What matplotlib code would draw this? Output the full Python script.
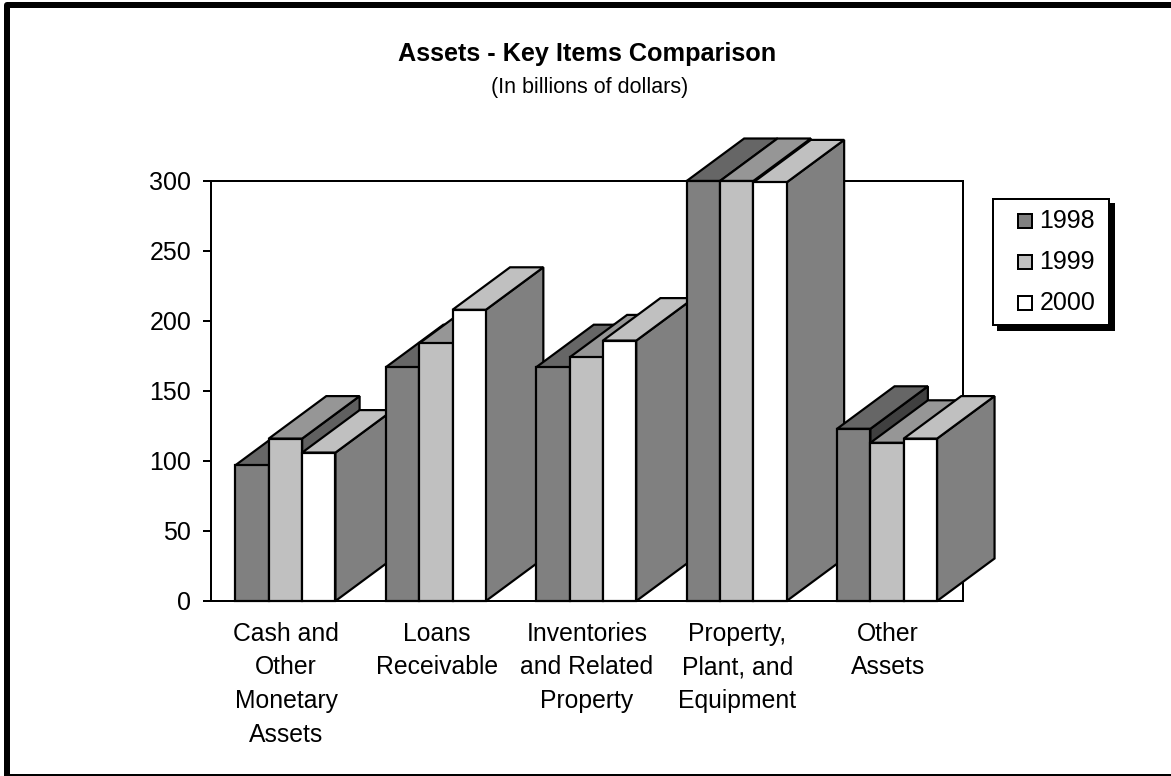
import matplotlib
matplotlib.use("Agg")
import matplotlib.pyplot as plt
from matplotlib.patches import Polygon, Rectangle
from matplotlib.legend_handler import HandlerBase

categories = ["Cash and\nOther\nMonetary\nAssets", "Loans\nReceivable",
              "Inventories\nand Related\nProperty", "Property,\nPlant, and\nEquipment",
              "Other\nAssets"]
years = ["1998", "1999", "2000"]
v1998 = [97, 167, 167, 300, 123]
v1999 = [116, 184, 174, 300, 113]
v2000 = [106, 208, 186, 299, 116]
series = [v1998, v1999, v2000]
front_colors = ["#808080", "#C0C0C0", "#FFFFFF"]
top_colors = ["#666666", "#969696", "#C0C0C0"]
side_colors = ["#404040", "#606060", "#808080"]
yticks = [0, 50, 100, 150, 200, 250, 300]

W, H = 1171, 776
plt.rcParams["font.family"] = ["Liberation Sans", "DejaVu Sans"]
px = 72 / 100
fig = plt.figure(figsize=(W / 100, H / 100), dpi=100, facecolor="white")

L, R, T, B = 211, 963, 181, 601
ax = fig.add_axes([L / W, 1 - B / H, (R - L) / W, (B - T) / H])
ax.set_xlim(0, 5)
ax.set_ylim(0, 300)
for s in ax.spines.values():
    s.set_linewidth(2 * px)
    s.set_zorder(0.5)
ax.set_yticks(yticks)
ax.set_xticks([i + 0.5 for i in range(5)])
ax.set_xticklabels(categories, fontsize=17.8, linespacing=1.52, va="top")
ax.tick_params(axis="x", length=0, pad=14.8)
ax.tick_params(axis="y", length=8 * px, width=2 * px, labelsize=18, pad=8.5)

bar_w = 100 / 3 / 150.4
dx = 57.5 / 150.4
dy = 42.5 / 1.4
z = 2
for g in range(5):
    for k, vals in enumerate(series):
        x0 = g + 0.5 - 0.005 + (k - 1.5) * bar_w
        x1 = x0 + bar_w
        v = vals[g]
        faces = [
            ([(x1, 0), (x1 + dx, dy), (x1 + dx, v + dy), (x1, v)], side_colors[k]),
            ([(x0, v), (x0 + dx, v + dy), (x1 + dx, v + dy), (x1, v)], top_colors[k]),
            ([(x0, 0), (x1, 0), (x1, v), (x0, v)], front_colors[k]),
        ]
        for pts, col in faces:
            ax.add_patch(Polygon(pts, closed=True, facecolor=col, edgecolor="black",
                                 linewidth=2.2 * px, joinstyle="miter", clip_on=False, zorder=z))
            z += 1


class SquareHandler(HandlerBase):
    def create_artists(self, legend, orig, xd, yd, width, height, fontsize, trans):
        s = 14.5 * px
        x = width - s - 3 * px
        y = (height - s) / 2 - 1 * px
        outer = Rectangle((x, y), s, s, facecolor="white", edgecolor="black",
                          linewidth=2 * px, transform=trans)
        inner = Rectangle((x + 1.5 * px, y + 1.5 * px), s - 3 * px, s - 3 * px,
                          facecolor=orig.get_facecolor(), edgecolor="none", transform=trans)
        return [outer, inner]


handles = [Rectangle((0, 0), 1, 1, facecolor=c) for c in front_colors]
fs = 18
leg = ax.legend(handles, years, handler_map={Rectangle: SquareHandler()},
                loc="upper left", mode="expand",
                bbox_to_anchor=(993 / W, 1 - 325 / H, 116 / W, 126 / H),
                bbox_transform=fig.transFigure, borderaxespad=0, fontsize=fs,
                frameon=True, fancybox=False, framealpha=1, facecolor="white",
                edgecolor="black", shadow={"ox": 5 * px, "oy": -5 * px, "color": "black", "alpha": 1},
                borderpad=0.39, handlelength=1.3, handleheight=0.6, handletextpad=0.17,
                labelspacing=0.68)
leg.get_frame().set_linewidth(2 * px)
leg.set_zorder(1000)

fig.text(587 / W, 1 - 54 / H, "Assets - Key Items Comparison", ha="center", va="center",
         fontsize=18.2, fontweight="bold")
fig.text(590 / W, 1 - 87 / H, "(In billions of dollars)", ha="center", va="center", fontsize=15.5)

fig.add_artist(Rectangle((7 / W, 1 - 777 / H), (1190 - 7) / W, (777 - 5) / H,
                         transform=fig.transFigure, facecolor="none", edgecolor="black",
                         linewidth=6 * px, joinstyle="round"))

fig.savefig("out.png", dpi=100)
